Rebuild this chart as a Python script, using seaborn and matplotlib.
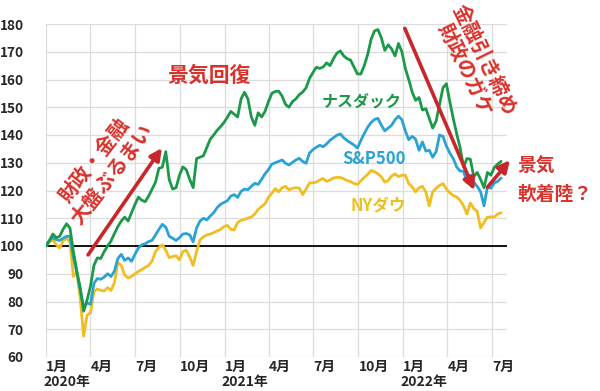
import numpy as np
import pandas as pd
import matplotlib
matplotlib.use("Agg")
import matplotlib.pyplot as plt
import seaborn as sns

# ---- data (weekly, index 2020-01-01 = 100) ----
start_date = "2020-01-01"
nasdaq = [100, 102, 104.3, 103, 103.5, 106, 108, 106.5, 98, 91, 85, 76.5, 80.5, 85.5,
          93, 95.7, 95.5, 98, 100, 101.8, 104.5, 107, 109, 110.4, 109, 112, 115, 117.6,
          116.5, 116, 118, 120.5, 123, 128, 128.4, 134, 124, 120.5, 121, 125.5, 128.5,
          127.5, 124, 121, 131.5, 132, 132.5, 135.5, 138.5, 140, 141.7, 143, 144.5, 146.4,
          148.5, 147.5, 146.5, 153, 155.4, 153, 146.5, 143.5, 148, 146.5, 148.5, 152, 155,
          155.7, 155.8, 154, 151, 150, 152, 153, 154.5, 155.5, 157, 160.4, 162.5, 164.4,
          164, 164.5, 166, 165, 167.5, 169.5, 170.3, 168.5, 167.5, 167, 164.5, 162, 162,
          165, 169, 174.5, 177.5, 178, 175, 170.5, 172.5, 171, 168.5, 173, 170, 164, 160,
          155.5, 152.5, 153.5, 149, 149.5, 146, 142.5, 145, 151, 157, 158.5, 152, 146,
          140.5, 135.5, 128.5, 131.5, 131.3, 125, 126.5, 124, 121, 126.5, 125.5, 128.3,
          129.5, 130.5]
sp500 = [100, 102, 103, 102.3, 102, 102.8, 103.5, 103.5, 96, 90.5, 84, 78, 79.5, 79,
         86.5, 88.3, 88, 88.8, 90, 89, 91, 95.5, 97, 94.8, 95.7, 94.5, 97, 99.3, 100.4,
         100.8, 101.6, 102, 104, 106, 107.8, 106.8, 103.5, 102.8, 102, 103, 104.3, 104.5,
         104, 101.5, 106.5, 109, 110, 109.4, 110.8, 112, 113.8, 115, 115.7, 116.3, 118,
         118.5, 117.5, 119.7, 120.5, 120.3, 121.5, 122.6, 122.2, 124, 126, 127.5, 129.5,
         130, 130.5, 131, 129.8, 129.2, 130.1, 131, 131.6, 130.5, 129.8, 133.5, 134.7,
         135.6, 136.3, 135.8, 136.8, 138.1, 139, 139.9, 140.4, 139, 138, 137.2, 136.4,
         135.3, 138, 140.5, 142.8, 144.5, 145.6, 146, 143.5, 141.5, 142.5, 143.5, 145.5,
         146.8, 145.5, 141.5, 138.3, 139.5, 138.5, 134.5, 137.5, 134.2, 134.5, 132, 134,
         140, 139.5, 136, 133.5, 131.5, 128.5, 127, 127, 123, 125.5, 123, 121.5, 119.5,
         114.5, 121.3, 120.8, 122.7, 123.3, 124.5]
nydow = [100, 101.5, 102.2, 100.5, 99.3, 101.8, 102.8, 101.5, 89, 90.5, 81, 67.5, 75, 76,
         83.5, 84.5, 84, 83.8, 85, 84, 86.8, 94, 93, 89.5, 88.5, 89, 90, 90.8, 91.5, 92.3,
         93, 94.6, 98, 99.5, 100.4, 98.5, 95.8, 96.2, 96.5, 95, 98, 98.5, 96, 93, 98,
         102.2, 103.3, 104, 104.3, 104.8, 105.4, 106, 107, 107.4, 106, 105.8, 108.5, 109.2,
         109.6, 110, 110.5, 111.5, 113.2, 114.2, 115.2, 117.5, 119, 120.7, 119.5, 121,
         121.5, 120.2, 120.8, 121, 120.9, 118.5, 120.5, 122.7, 122.8, 123, 123.8, 124.3,
         123.3, 123.8, 124.5, 124.7, 124.7, 124.2, 123.6, 123.2, 122.5, 122.2, 123.5, 124.7,
         125.8, 127.2, 126.8, 126, 124.9, 123, 123.6, 125.2, 126, 125, 125.5, 125.5, 122.5,
         121.3, 119.5, 121, 121.5, 119.5, 114.5, 119.5, 120.8, 121.8, 122.5, 120.5, 119.2,
         118.2, 117.7, 116.5, 114.5, 111.5, 115.5, 113.5, 112.5, 106.5, 108.5, 110.4, 110.5,
         110.5, 111.5, 112]

series_names = ["ナスダック", "S&P500", "NYダウ"]
colors = ["#1a9a48", "#29a3d6", "#f0be22"]

tick_dates = ["2020-01-01", "2020-04-01", "2020-07-01", "2020-10-01", "2021-01-01",
              "2021-04-01", "2021-07-01", "2021-10-01", "2022-01-01", "2022-04-01",
              "2022-07-01"]
tick_labels = ["1月", "4月", "7月", "10月", "1月", "4月", "7月", "10月", "1月", "4月", "7月"]
year_dates = ["2020-01-01", "2021-01-01", "2022-01-01"]
year_labels = ["2020年", "2021年", "2022年"]
yticks = list(range(60, 181, 10))

# ---- build table ----
n = len(nasdaq)
dates = pd.date_range(start_date, periods=n, freq="7D")
df = pd.concat([
    pd.DataFrame({"date": dates, "value": vals, "series": name})
    for name, vals in zip(series_names, [nasdaq, sp500, nydow])
])

sns.set_style("white")
plt.rcParams["font.family"] = ["Noto Sans CJK JP", "DejaVu Sans"]
plt.rcParams["font.weight"] = "bold"

fig = plt.figure(figsize=(6.0, 3.91), dpi=100)
ax = fig.add_axes([46 / 600, 1 - 357 / 391, (507 - 46) / 600, (357 - 24) / 391])

red = "#d8322c"
ax.axhline(100, color="black", lw=1.3, zorder=1)

sns.lineplot(data=df, x="date", y="value", hue="series",
             palette=dict(zip(series_names, colors)), linewidth=2.0,
             legend=False, ax=ax, zorder=3, hue_order=series_names[::-1])

ax.set_xlim(pd.Timestamp("2020-01-01"), pd.Timestamp("2022-08-01"))
ax.set_ylim(60, 180)
ax.set_yticks(yticks)
ax.set_xticks(pd.to_datetime(tick_dates))
ax.set_xticklabels(tick_labels, ha="left", fontsize=10, fontweight="bold")
ax.set_yticklabels([str(v) for v in yticks], fontsize=9.8, fontweight="bold")
ax.tick_params(axis="y", length=0, pad=16)
ax.tick_params(axis="x", length=0, pad=2)
for d, lab in zip(year_dates, year_labels):
    ax.annotate(lab, xy=(pd.Timestamp(d), 0), xycoords=("data", "axes fraction"),
                xytext=(-3, -25), textcoords="offset pixels", ha="left", va="center",
                fontsize=10, fontweight="bold", annotation_clip=False)
ax.grid(True, color="#dcdcdc", lw=0.9)
ax.set_axisbelow(True)
for s in ax.spines.values():
    s.set_visible(False)
ax.set_xlabel("")
ax.set_ylabel("")

# ---- series labels ----
ax.text(pd.Timestamp("2021-10-08"), 152.2, "ナスダック", color=colors[0], fontsize=11.5,
        fontweight="bold", ha="center", va="center")
ax.text(pd.Timestamp("2021-11-02"), 131.3, "S&P500", color=colors[1], fontsize=12,
        fontweight="bold", ha="center", va="center")
ax.text(pd.Timestamp("2021-11-10"), 114.7, "NYダウ", color=colors[2], fontsize=12,
        fontweight="bold", ha="center", va="center")

# ---- annotations ----
ax.text(pd.Timestamp("2020-11-30"), 161.5, "景気回復", color=red, fontsize=15,
        fontweight="bold", ha="center", va="center")
ax.text(pd.Timestamp("2020-04-26"), 128.4, "財政・金融\n大盤ぶるまい", color=red, fontsize=14.5,
        fontweight="bold", ha="center", va="center", rotation=52,
        rotation_mode="anchor", linespacing=1.05)
ax.text(pd.Timestamp("2022-05-28"), 165.5, "金融引き締め\n財政のガケ", color=red, fontsize=14.5,
        fontweight="bold", ha="center", va="center", rotation=-64,
        rotation_mode="anchor", linespacing=1.05, clip_on=False)
ax.text(pd.Timestamp("2022-08-22"), 123.7, "景気\n軟着陸？", color=red, fontsize=13.5,
        fontweight="bold", ha="left", va="center", linespacing=1.6, clip_on=False)

arrow_kw = dict(arrowstyle="-|>,head_length=0.7,head_width=0.35", color="#c8262a", lw=2.6,
                shrinkA=0, shrinkB=0)
ax.annotate("", xy=(pd.Timestamp("2020-08-25"), 135.3), xytext=(pd.Timestamp("2020-03-27"), 96.8),
            arrowprops=arrow_kw)
ax.annotate("", xy=(pd.Timestamp("2022-05-26"), 120.1), xytext=(pd.Timestamp("2022-01-04"), 178.4),
            arrowprops=arrow_kw, annotation_clip=False)
ax.annotate("", xy=(pd.Timestamp("2022-08-07"), 130.9), xytext=(pd.Timestamp("2022-06-22"), 121.2),
            arrowprops=arrow_kw, annotation_clip=False)

fig.savefig("out.png", dpi=100)
